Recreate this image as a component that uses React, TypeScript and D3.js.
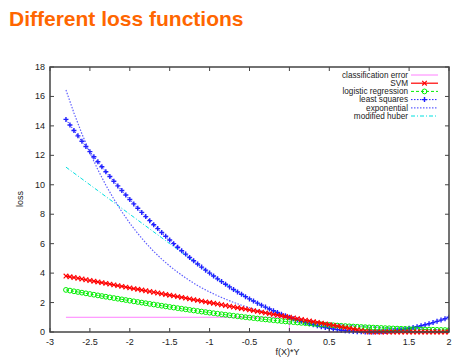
import React from "react";
import * as d3 from "d3";

const xFine = d3.range(97).map((i) => +(-2.8 + i * 0.05).toFixed(2));
const xCoarse = d3.range(49).map((i) => +(-2.8 + i * 0.1).toFixed(1));
const xClass = [-2.8, 0, 0, 2];

const classError = [1, 1, 0, 0];

const svm = [
  3.8, 3.75, 3.7, 3.65, 3.6, 3.55, 3.5, 3.45, 3.4, 3.35, 3.3, 3.25, 3.2, 3.15, 3.1, 3.05, 3.0,
  2.95, 2.9, 2.85, 2.8, 2.75, 2.7, 2.65, 2.6, 2.55, 2.5, 2.45, 2.4, 2.35, 2.3, 2.25, 2.2, 2.15,
  2.1, 2.05, 2.0, 1.95, 1.9, 1.85, 1.8, 1.75, 1.7, 1.65, 1.6, 1.55, 1.5, 1.45, 1.4, 1.35, 1.3,
  1.25, 1.2, 1.15, 1.1, 1.05, 1.0, 0.95, 0.9, 0.85, 0.8, 0.75, 0.7, 0.65, 0.6, 0.55, 0.5, 0.45,
  0.4, 0.35, 0.3, 0.25, 0.2, 0.15, 0.1, 0.05, 0, 0, 0, 0, 0, 0, 0, 0, 0, 0, 0, 0, 0, 0, 0, 0,
  0, 0, 0, 0, 0,
];

const logistic = [
  2.859, 2.812, 2.765, 2.718, 2.672, 2.625, 2.579, 2.533, 2.487, 2.441, 2.396, 2.35, 2.305,
  2.26, 2.216, 2.171, 2.127, 2.083, 2.039, 1.996, 1.953, 1.91, 1.868, 1.826, 1.784, 1.743,
  1.701, 1.661, 1.62, 1.581, 1.541, 1.502, 1.463, 1.425, 1.387, 1.35, 1.313, 1.277, 1.241,
  1.206, 1.171, 1.137, 1.103, 1.07, 1.038, 1.006, 0.974, 0.943, 0.913, 0.883, 0.854, 0.826,
  0.798, 0.771, 0.744, 0.718, 0.693, 0.668, 0.644, 0.621, 0.598, 0.576, 0.554, 0.533, 0.513,
  0.493, 0.474, 0.456, 0.438, 0.42, 0.403, 0.387, 0.371, 0.356, 0.341, 0.327, 0.313, 0.3,
  0.287, 0.275, 0.263, 0.252, 0.241, 0.231, 0.22, 0.211, 0.201, 0.193, 0.184, 0.176, 0.168,
  0.16, 0.153, 0.146, 0.139, 0.133, 0.127,
];

const leastSquares = [
  14.44, 14.0625, 13.69, 13.3225, 12.96, 12.6025, 12.25, 11.9025, 11.56, 11.2225, 10.89,
  10.5625, 10.24, 9.9225, 9.61, 9.3025, 9.0, 8.7025, 8.41, 8.1225, 7.84, 7.5625, 7.29, 7.0225,
  6.76, 6.5025, 6.25, 6.0025, 5.76, 5.5225, 5.29, 5.0625, 4.84, 4.6225, 4.41, 4.2025, 4.0,
  3.8025, 3.61, 3.4225, 3.24, 3.0625, 2.89, 2.7225, 2.56, 2.4025, 2.25, 2.1025, 1.96, 1.8225,
  1.69, 1.5625, 1.44, 1.3225, 1.21, 1.1025, 1.0, 0.9025, 0.81, 0.7225, 0.64, 0.5625, 0.49,
  0.4225, 0.36, 0.3025, 0.25, 0.2025, 0.16, 0.1225, 0.09, 0.0625, 0.04, 0.0225, 0.01, 0.0025,
  0, 0.0025, 0.01, 0.0225, 0.04, 0.0625, 0.09, 0.1225, 0.16, 0.2025, 0.25, 0.3025, 0.36,
  0.4225, 0.49, 0.5625, 0.64, 0.7225, 0.81, 0.9025, 1.0,
];

const exponential = [
  16.44, 14.88, 13.46, 12.18, 11.02, 9.97, 9.03, 8.17, 7.39, 6.69, 6.05, 5.47, 4.95, 4.48, 4.06,
  3.67, 3.32, 3.0, 2.72, 2.46, 2.23, 2.01, 1.82, 1.65, 1.49, 1.35, 1.22, 1.105, 1.0, 0.905,
  0.819, 0.741, 0.67, 0.607, 0.549, 0.497, 0.449, 0.407, 0.368, 0.333, 0.301, 0.273, 0.247,
  0.223, 0.202, 0.183, 0.165, 0.15, 0.135,
];

const modHuber = [
  11.2, 10.8, 10.4, 10.0, 9.6, 9.2, 8.8, 8.4, 8.0, 7.6, 7.2, 6.8, 6.4, 6.0, 5.6, 5.2, 4.8, 4.4,
  4.0, 3.61, 3.24, 2.89, 2.56, 2.25, 1.96, 1.69, 1.44, 1.21, 1.0, 0.81, 0.64, 0.49, 0.36, 0.25,
  0.16, 0.09, 0.04, 0.01, 0, 0, 0, 0, 0, 0, 0, 0, 0, 0, 0,
];

const xTicks = [-3, -2.5, -2, -1.5, -1, -0.5, 0, 0.5, 1, 1.5, 2];
const yTicks = [0, 2, 4, 6, 8, 10, 12, 14, 16, 18];

const legendLabels = [
  "classification error",
  "SVM",
  "logistic regression",
  "least squares",
  "exponential",
  "modified huber",
];

type Series = {
  name: string;
  xs: number[];
  ys: number[];
  color: string;
  dash: string;
  marker: "none" | "x" | "circle" | "plus";
  width: number;
};

export default function App() {
  const left = 50;
  const right = 449;
  const top = 67;
  const bottom = 332;
  const x = d3.scaleLinear().domain([-3, 2]).range([left, right]);
  const y = d3.scaleLinear().domain([0, 18]).range([bottom, top]);

  const series: Series[] = [
    { name: legendLabels[0], xs: xClass, ys: classError, color: "#ff80ff", dash: "", marker: "none", width: 1 },
    { name: legendLabels[5], xs: xCoarse, ys: modHuber, color: "#00e0e0", dash: "4 2 1 2", marker: "none", width: 1 },
    { name: legendLabels[4], xs: xCoarse, ys: exponential, color: "#6060ff", dash: "1.5 1.5", marker: "none", width: 1.2 },
    { name: legendLabels[3], xs: xFine, ys: leastSquares, color: "#2020ff", dash: "1.5 1.5", marker: "plus", width: 1 },
    { name: legendLabels[2], xs: xFine, ys: logistic, color: "#00ee00", dash: "3 2", marker: "circle", width: 1 },
    { name: legendLabels[1], xs: xFine, ys: svm, color: "#ff0000", dash: "", marker: "x", width: 1.2 },
  ];

  const line = (s: Series) =>
    d3
      .line<number>()
      .x((_, i) => x(s.xs[i]))
      .y((d) => y(d))(s.ys) || "";

  const drawMarker = (m: Series["marker"], cx: number, cy: number, color: string, key: string) => {
    const r = 2.3;
    if (m === "x")
      return (
        <path key={key} d={`M${cx - r},${cy - r}L${cx + r},${cy + r}M${cx - r},${cy + r}L${cx + r},${cy - r}`} stroke={color} strokeWidth={1.1} />
      );
    if (m === "circle")
      return <circle key={key} cx={cx} cy={cy} r={2.4} fill="none" stroke={color} strokeWidth={1} />;
    if (m === "plus")
      return (
        <path key={key} d={`M${cx - 2.5},${cy}L${cx + 2.5},${cy}M${cx},${cy - 2.5}L${cx},${cy + 2.5}`} stroke={color} strokeWidth={1.4} />
      );
    return null;
  };

  const axisColor = "#444";
  const tickFont = "Liberation Sans, Arial, sans-serif";

  return (
    <svg width={466} height={357} style={{ position: "absolute", left: 0, top: 0, background: "#fff" }}>
      <text x={9} y={26} fill="#ff6600" fontFamily={tickFont} fontWeight="bold" fontSize={21}>
        Different loss functions
      </text>

      <defs>
        <clipPath id="plotClip">
          <rect x={left} y={top} width={right - left} height={bottom - top + 3} />
        </clipPath>
      </defs>

      <g clipPath="url(#plotClip)">
        {series.map((s) => (
          <g key={s.name}>
            <path d={line(s)} fill="none" stroke={s.color} strokeWidth={s.width} strokeDasharray={s.dash} />
            {s.marker !== "none" &&
              s.ys.map((v, i) => drawMarker(s.marker, x(s.xs[i]), y(v), s.color, `${s.name}-${i}`))}
          </g>
        ))}
      </g>

      <rect x={left} y={top} width={right - left} height={bottom - top} fill="none" stroke={axisColor} strokeWidth={1.5} />

      {xTicks.map((t) => (
        <g key={`xt${t}`}>
          <line x1={x(t)} x2={x(t)} y1={bottom} y2={bottom - 4} stroke={axisColor} strokeWidth={1} />
          <line x1={x(t)} x2={x(t)} y1={top} y2={top + 4} stroke={axisColor} strokeWidth={1} />
          <text x={x(t)} y={345} textAnchor="middle" fontFamily={tickFont} fontSize={9} fill="#222">
            {t}
          </text>
        </g>
      ))}
      {yTicks.map((t) => (
        <g key={`yt${t}`}>
          <line x1={left} x2={left + 4} y1={y(t)} y2={y(t)} stroke={axisColor} strokeWidth={1} />
          <line x1={right} x2={right - 4} y1={y(t)} y2={y(t)} stroke={axisColor} strokeWidth={1} />
          <text x={45} y={y(t) + 3} textAnchor="end" fontFamily={tickFont} fontSize={9} fill="#222">
            {t}
          </text>
        </g>
      ))}

      <text x={x(0) - 2} y={355} textAnchor="middle" fontFamily={tickFont} fontSize={9} fill="#222">
        f(X)*Y
      </text>
      <text transform={`translate(23,199) rotate(-90)`} textAnchor="middle" fontFamily={tickFont} fontSize={9} fill="#222">
        loss
      </text>

      {legendLabels.map((label, row) => {
        const s = series.find((q) => q.name === label)!;
        const ly = 75 + row * 8.2;
        return (
          <g key={`lg${row}`}>
            <text x={408} y={ly + 2.8} textAnchor="end" fontFamily={tickFont} fontSize={8.2} fill="#222">
              {label}
            </text>
            <line x1={411} x2={438} y1={ly} y2={ly} stroke={s.color} strokeWidth={s.width} strokeDasharray={s.dash} />
            {s.marker !== "none" && drawMarker(s.marker, 424.5, ly, s.color, `lgm${row}`)}
          </g>
        );
      })}
    </svg>
  );
}
